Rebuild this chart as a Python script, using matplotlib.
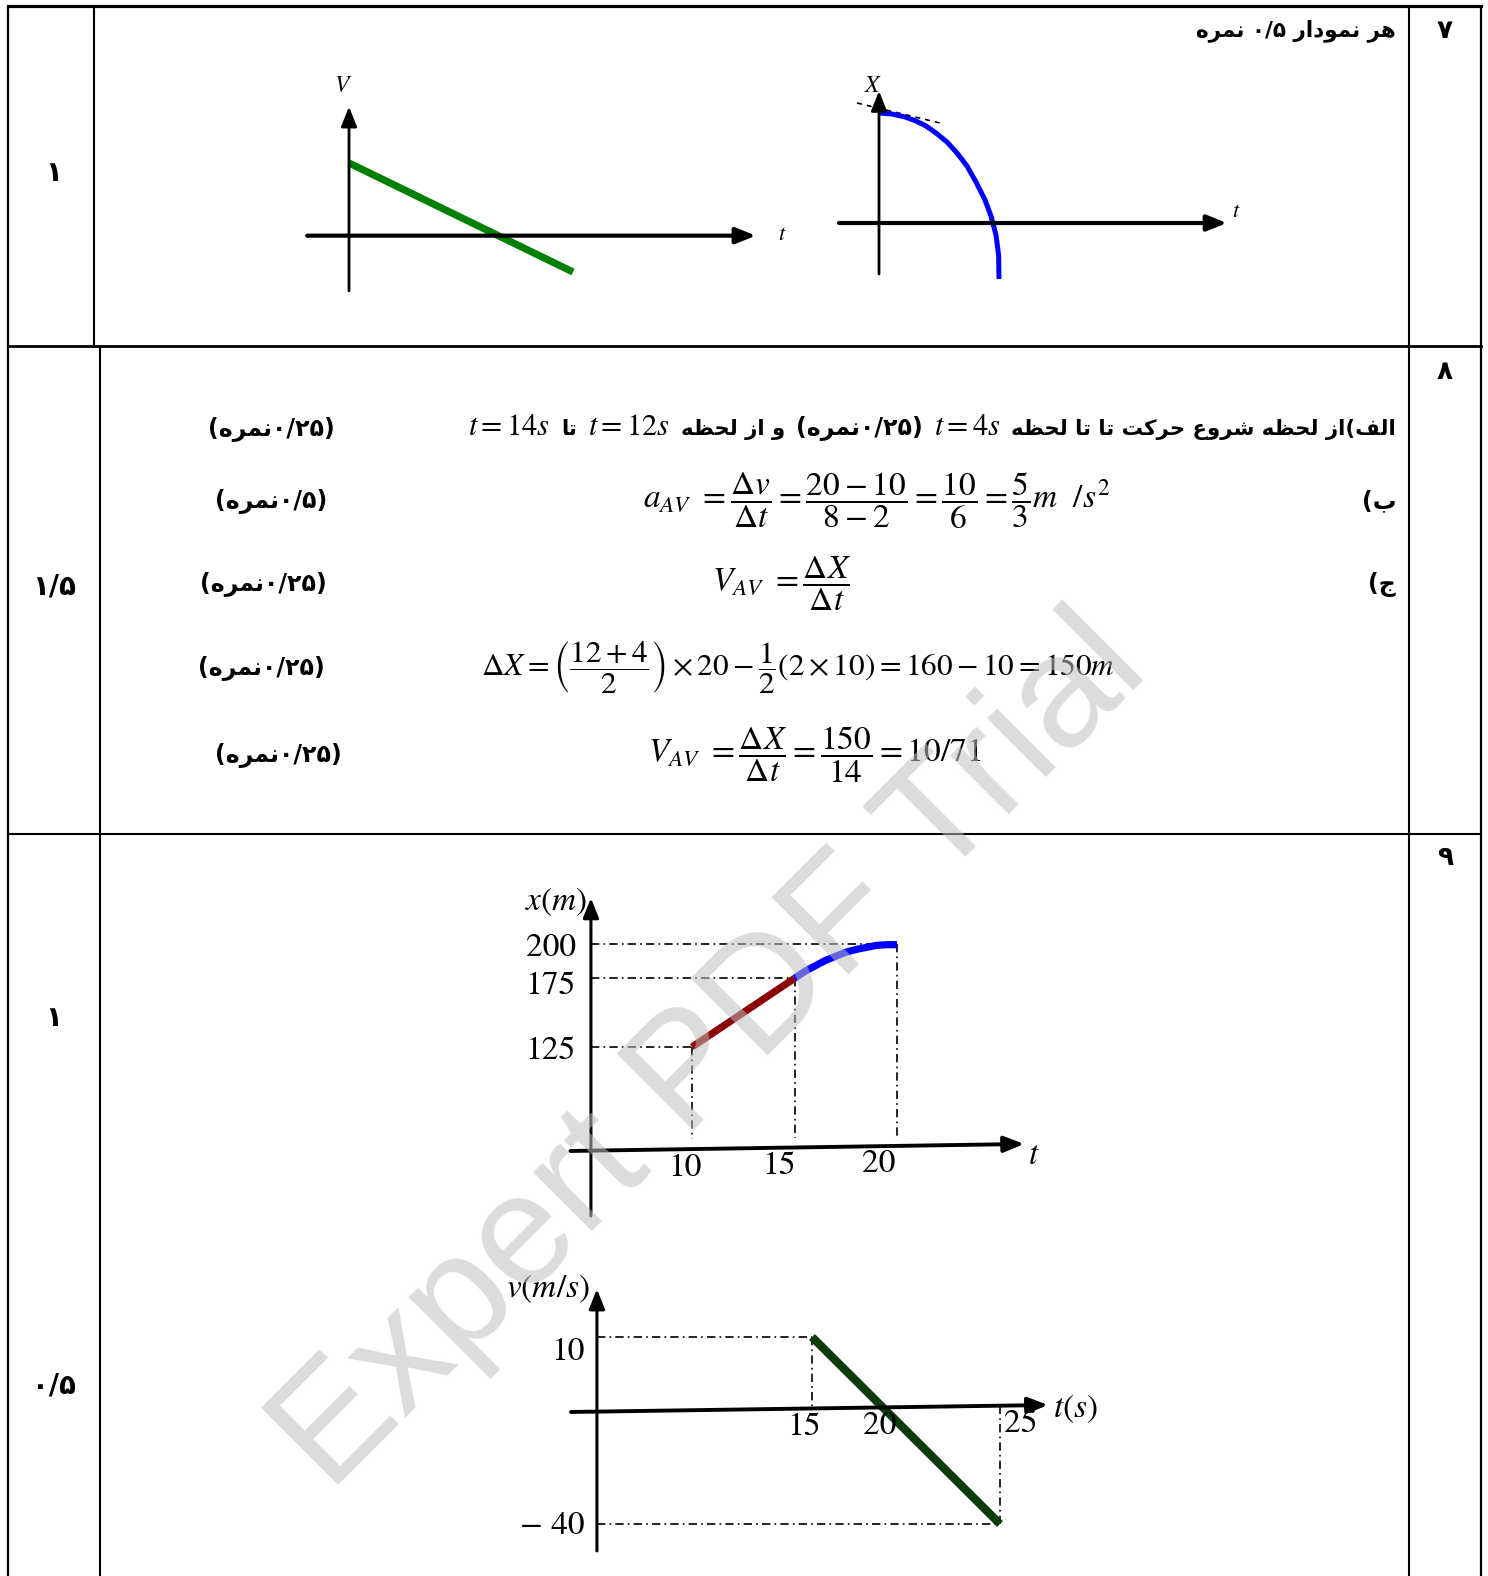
import re
import numpy as np
import matplotlib
matplotlib.use("Agg")
import matplotlib.pyplot as plt

W, H, DPI = 1488, 1576, 100

# ---------------- data ----------------
# Question 7 sketches (arbitrary units)
v7_t = [0, 6]
v7_v = [2, -1]
x7_t = [0, 0.65, 1.3, 1.85, 2.35, 2.85, 3.4, 3.9, 4.4, 4.85, 5.3, 5.6, 5.85, 5.98, 6.0]
x7_x = [5.5, 5.45, 5.3, 5.1, 4.85, 4.5, 4.05, 3.5, 2.85, 2.05, 1.15, 0.35, -0.6, -1.6, -2.8]
x7_tan_t = [-1.1, 3.05]
x7_tan_x = [6.0, 5.0]

# Question 9: position-time graph
x9_lin_t = [10, 15]
x9_lin_x = [125, 175]
x9_cur_t = [15, 15.5, 16, 16.5, 17, 17.5, 18, 18.5, 19, 19.5, 20]
x9_cur_x = [175, 180, 184, 188, 191, 194, 196, 197.5, 199, 199.5, 199.5]
x9_t_ticks = [10, 15, 20]
x9_x_ticks = [125, 175, 200]

# Question 9: velocity-time graph
v9_t = [15, 25]
v9_v = [10, -40]
v9_t_ticks = [15, 20, 25]
v9_v_ticks = [10, -40]

# Text content
q_numbers = ["۷", "۸", "۹"]
row_scores = ["۱", "۱/۵", "۱", "۰/۵"]
q7_title = "هر نمودار ۰/۵ نمره"
q8_marks = ["(۰/۲۵نمره)", "(۰/۵نمره)", "(۰/۲۵نمره)", "(۰/۲۵نمره)", "(۰/۲۵نمره)"]

# ---------------- Persian shaping helpers ----------------
FORMS = {
    "ا": ("\uFE8D", "\uFE8E", None, None),
    "ب": ("\uFE8F", "\uFE90", "\uFE91", "\uFE92"),
    "ت": ("\uFE95", "\uFE96", "\uFE97", "\uFE98"),
    "ج": ("\uFE9D", "\uFE9E", "\uFE9F", "\uFEA0"),
    "ح": ("\uFEA1", "\uFEA2", "\uFEA3", "\uFEA4"),
    "د": ("\uFEA9", "\uFEAA", None, None),
    "ر": ("\uFEAD", "\uFEAE", None, None),
    "ز": ("\uFEAF", "\uFEB0", None, None),
    "ش": ("\uFEB5", "\uFEB6", "\uFEB7", "\uFEB8"),
    "ظ": ("\uFEC5", "\uFEC6", "\uFEC7", "\uFEC8"),
    "ع": ("\uFEC9", "\uFECA", "\uFECB", "\uFECC"),
    "ف": ("\uFED1", "\uFED2", "\uFED3", "\uFED4"),
    "ک": ("\uFB8E", "\uFB8F", "\uFB90", "\uFB91"),
    "ل": ("\uFEDD", "\uFEDE", "\uFEDF", "\uFEE0"),
    "م": ("\uFEE1", "\uFEE2", "\uFEE3", "\uFEE4"),
    "ن": ("\uFEE5", "\uFEE6", "\uFEE7", "\uFEE8"),
    "ه": ("\uFEE9", "\uFEEA", "\uFEEB", "\uFEEC"),
    "و": ("\uFEED", "\uFEEE", None, None),
}


def shape(s):
    out = []
    for i, c in enumerate(s):
        if c not in FORMS:
            out.append(c)
            continue
        f = FORMS[c]
        prev = s[i - 1] if i > 0 else ""
        nxt = s[i + 1] if i + 1 < len(s) else ""
        jp = prev in FORMS and FORMS[prev][2] is not None
        jn = f[2] is not None and nxt in FORMS
        if jp and jn:
            out.append(f[3])
        elif jp:
            out.append(f[1])
        elif jn:
            out.append(f[2])
        else:
            out.append(f[0])
    return "".join(out)


def rtl(s):
    shaped = shape(s)
    tokens = re.findall(r"[0-9\u06F0-\u06F9]+(?:/[0-9\u06F0-\u06F9]+)*|.", shaped)
    mirror = {"(": ")", ")": "("}
    return "".join(t if t[0].isdigit() else mirror.get(t, t) for t in reversed(tokens))


# ---------------- figure ----------------
plt.rcParams["mathtext.fontset"] = "stix"
plt.rcParams["font.family"] = ["DejaVu Sans"]

fig = plt.figure(figsize=(W / DPI, H / DPI), dpi=DPI)
fig.patch.set_facecolor("white")
page = fig.add_axes([0, 0, 1, 1])
page.set_xlim(0, W)
page.set_ylim(H, 0)
page.axis("off")

FA = dict(family="DejaVu Sans", weight="bold", color="black")
SERIF = "STIXGeneral"


def hline(y, x0, x1, lw):
    page.plot([x0, x1], [y, y], color="black", lw=lw, solid_capstyle="projecting")


def vline(x, y0, y1, lw):
    page.plot([x, x], [y0, y1], color="black", lw=lw, solid_capstyle="butt")


# table grid
hline(6, 8, 1481, 2.3)
hline(346, 8, 1481, 2.0)
hline(834, 8, 1481, 1.5)
vline(8, 6, H, 1.6)
vline(1481, 6, H, 1.6)
vline(1409, 6, H, 1.5)
vline(94, 6, 346, 1.5)
vline(100, 346, H, 1.5)

# question numbers and row scores
for s, y in zip(q_numbers, [31, 372, 858]):
    page.text(1445, y, s, ha="center", va="center", fontsize=19, **FA)
for s, y in zip(row_scores, [173, 586, 1018, 1386]):
    page.text(54, y, s, ha="center", va="center", fontsize=20, **FA)

page.text(1396, 31, rtl(q7_title), ha="right", va="center", fontsize=15.5, **FA)

renderer = fig.canvas.get_renderer()


def rtl_line(pieces, x_right, y, gap):
    x = x_right
    for s, kw in pieces:
        t = page.text(x, y, s, ha="right", va="baseline", **kw)
        bb = t.get_window_extent(renderer)
        x -= bb.width + gap


FAK = dict(fontsize=17, **FA)
FAS = dict(fontsize=15.3, **FA)
MK = dict(fontsize=22, color="black")
rtl_line([
    (rtl("الف)از لحظه شروع حرکت تا تا لحظه"), FAS),
    (r"$t=4s$", MK),
    (rtl(q8_marks[0]), FAK),
    (rtl("و از لحظه"), FAS),
    (r"$t=12s$", MK),
    (rtl("تا"), FAS),
    (r"$t=14s$", MK),
], 1396, 435, 11)

page.text(1396, 508, rtl("ب)"), ha="right", va="baseline", **FAK)
page.text(1396, 591, rtl("ج)"), ha="right", va="baseline", **FAK)

for s, (xc, yb) in zip(q8_marks, [(271, 436), (271, 508), (263, 591), (261, 675), (278, 762)]):
    page.text(xc, yb, rtl(s), ha="center", va="baseline", **FAK)

page.text(643, 508, r"$a_{AV}\ =\dfrac{\Delta v}{\Delta t}=\dfrac{20-10}{8-2}=\dfrac{10}{6}=\dfrac{5}{3}m\ \ /s^{2}$",
          ha="left", va="baseline", fontsize=24)
page.text(712, 591, r"$V_{AV}\ =\dfrac{\Delta X}{\Delta t}$", ha="left", va="baseline", fontsize=24)
page.text(481, 675, r"$\Delta X=\left(\dfrac{12+4}{2}\right)\times 20-\dfrac{1}{2}\left(2\times 10\right)=160-10=150m$",
          ha="left", va="baseline", fontsize=22.5)
page.text(648, 762, r"$V_{AV}\ =\dfrac{\Delta X}{\Delta t}=\dfrac{150}{14}=10/71$", ha="left", va="baseline", fontsize=24)


# ---------------- graph axes ----------------
def graph_axes(tref, pxref, yref, pyref, tlim, ylim):
    sx = (pxref[1] - pxref[0]) / (tref[1] - tref[0])
    sy = (pyref[1] - pyref[0]) / (yref[1] - yref[0])
    left = pxref[0] + (tlim[0] - tref[0]) * sx
    right = pxref[0] + (tlim[1] - tref[0]) * sx
    top = pyref[0] + (ylim[1] - yref[0]) * sy
    bottom = pyref[0] + (ylim[0] - yref[0]) * sy
    ax = fig.add_axes([left / W, 1 - bottom / H, (right - left) / W, (bottom - top) / H])
    ax.set_xlim(tlim)
    ax.set_ylim(ylim)
    ax.axis("off")
    ax.patch.set_visible(False)
    return ax


def arrow(ax, start, tip, lw, ms=12):
    ax.annotate("", xy=tip, xytext=start,
                arrowprops=dict(arrowstyle="-|>,head_length=1.0,head_width=0.4", color="black",
                                lw=lw, shrinkA=0, shrinkB=0, mutation_scale=ms))


DD = (0, (5, 2.5, 1, 2.5))

# --- Q7 velocity sketch
ax1 = graph_axes((0, 6), (349, 573), (2, -1), (163, 272), (-2, 13), (-2.5, 5))
arrow(ax1, (-1.12, 0), (10.9, 0), 3.0)
arrow(ax1, (0, -1.52), (0, 3.55), 2.0)
ax1.plot(v7_t, v7_v, color="#008000", lw=5.2, solid_capstyle="butt")
ax1.text(-0.15, 4.15, r"$V$", ha="center", va="center", fontsize=17)
ax1.text(11.6, 0.05, r"$t$", ha="center", va="center", fontsize=16)

# --- Q7 position sketch
ax2 = graph_axes((0, 1), (879, 899), (0, 1), (223, 203), (-3, 19), (-4, 8))
arrow(ax2, (-2.0, 0), (17.4, 0), 3.0)
arrow(ax2, (0, -2.55), (0, 6.6), 2.0)
ax2.plot(x7_tan_t, x7_tan_x, color="black", lw=1.2, ls=(0, (3, 3)))
ax2.plot(x7_t, x7_x, color="#0000FF", lw=3.6, solid_capstyle="butt", solid_joinstyle="round")
ax2.text(-0.3, 6.9, r"$X$", ha="center", va="center", fontsize=17)
ax2.text(17.85, 0.6, r"$t$", ha="center", va="center", fontsize=16)

# --- Q9 position-time graph
ax3 = graph_axes((10, 20), (692, 897), (125, 200), (1047, 944), (0, 30), (-10, 250))
x_axis_t = [4.07, 26.2]
x_axis_x = [49.3, 54.4]
y_axis_t = 5.07
arrow(ax3, (x_axis_t[0], x_axis_x[0]), (x_axis_t[1], x_axis_x[1]), 2.8)
arrow(ax3, (y_axis_t, 2.0), (y_axis_t, 233.5), 2.2)
for tv, xv in zip(x9_t_ticks, x9_x_ticks):
    base = np.interp(tv, x_axis_t, x_axis_x)
    ax3.plot([y_axis_t, tv], [xv, xv], color="black", lw=1.2, ls=DD)
    ax3.plot([tv, tv], [xv, base + 7], color="black", lw=1.2, ls=DD)
ax3.plot(x9_lin_t, x9_lin_x, color="#8B0000", lw=5.2, solid_capstyle="butt")
ax3.plot(x9_cur_t, x9_cur_x, color="#0000FF", lw=5.2, solid_capstyle="butt")
for tv, dx in zip(x9_t_ticks, [-5, -11, -13]):
    base = np.interp(tv, x_axis_t, x_axis_x)
    ax3.annotate(str(tv), xy=(tv, base), xytext=(dx, -3), textcoords="offset points",
                 ha="center", va="top", fontsize=24, family=SERIF)
for xv, dy in zip(x9_x_ticks, [-3, -6, -3]):
    ax3.annotate(str(xv), xy=(y_axis_t, xv), xytext=(-11, dy), textcoords="offset points",
                 ha="right", va="center", fontsize=24, family=SERIF)
ax3.text(3.4, 230.6, r"$x(m)$", ha="center", va="center", fontsize=24)
ax3.text(26.7, 47.0, r"$t$", ha="center", va="center", fontsize=24)

# --- Q9 velocity-time graph
ax4 = graph_axes((15, 25), (812, 1000), (10, -40), (1337, 1524), (0, 32), (-55, 30))
t_axis_t = [2.18, 27.55]
t_axis_v = [-10.05, -8.18]
v_axis_t = 3.56
arrow(ax4, (t_axis_t[0], t_axis_v[0]), (t_axis_t[1], t_axis_v[1]), 2.8)
arrow(ax4, (v_axis_t, -47.2), (v_axis_t, 22.8), 2.2)
for tv, vv in zip(v9_t, v9_v):
    base = np.interp(tv, t_axis_t, t_axis_v)
    ax4.plot([v_axis_t, tv], [vv, vv], color="black", lw=1.2, ls=DD)
    ax4.plot([tv, tv], [vv, base], color="black", lw=1.2, ls=DD)
ax4.plot(v9_t, v9_v, color="#0B3B0B", lw=6.0, solid_capstyle="butt")
for tv, dx in zip(v9_t_ticks, [-6, -19, 15]):
    base = np.interp(tv, t_axis_t, t_axis_v)
    ax4.annotate(str(tv), xy=(tv, base), xytext=(dx, -3), textcoords="offset points",
                 ha="center", va="top", fontsize=24, family=SERIF)
for vv, dy in zip(v9_v_ticks, [-11, -2]):
    lab = str(vv).replace("-", "\u2212 ")
    ax4.annotate(lab, xy=(v_axis_t, vv), xytext=(-9, dy), textcoords="offset points",
                 ha="right", va="center", fontsize=24, family=SERIF)
ax4.text(0.96, 23.1, r"$v(m/s)$", ha="center", va="center", fontsize=24)
ax4.text(29.0, -9.0, r"$t(s)$", ha="center", va="center", fontsize=24)

# watermark
fig.text(740 / W, 1 - 1083 / H, "Expert PDF Trial", rotation=45, rotation_mode="anchor",
         ha="center", va="baseline", fontsize=114, family="Liberation Sans",
         color="#bfbfbf", alpha=0.55, zorder=10)

fig.savefig("out.png", dpi=DPI, facecolor="white")
